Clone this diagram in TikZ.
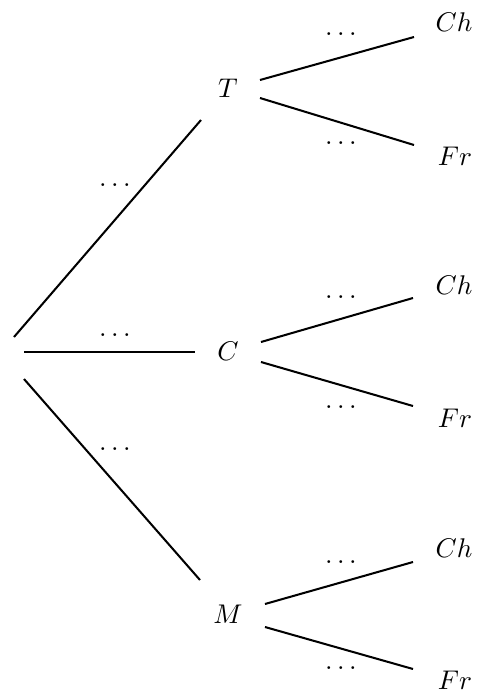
\documentclass[tikz,border=0pt]{standalone}
\begin{document}
\begin{tikzpicture}[x=0.37pt,y=-0.37pt,
  lbl/.style={anchor=base,inner sep=0pt},
  dts/.style={inner sep=0pt},
  br/.style={line width=0.75pt}]
\useasboundingbox (0,0) rectangle (477,693);
% level-1 nodes
\node[lbl] (T) at (228,97) {$T$};
\node[lbl] (C) at (228,360) {$C$};
\node[lbl] (M) at (228,623) {$M$};
% leaves
\node[lbl] (ch1) at (454,31.5) {$Ch$};
\node[lbl] (fr1) at (455,165) {$Fr$};
\node[lbl] (ch2) at (454,294.5) {$Ch$};
\node[lbl] (fr2) at (455,427.5) {$Fr$};
\node[lbl] (ch3) at (454,557) {$Ch$};
\node[lbl] (fr3) at (455,689) {$Fr$};
% connector end points
\coordinate (r1) at (14,337);
\coordinate (r2) at (24,352);
\coordinate (r3) at (24,379);
\coordinate (Tin) at (201,120);
\coordinate (Cin) at (195,352);
\coordinate (Min) at (200,580);
\coordinate (To1) at (260,80);
\coordinate (To2) at (260,98);
\coordinate (Co1) at (261,342);
\coordinate (Co2) at (261,362);
\coordinate (Mo1) at (265,604);
\coordinate (Mo2) at (265,627);
\coordinate (ch1in) at (414,37);
\coordinate (fr1in) at (414,145);
\coordinate (ch2in) at (413,298);
\coordinate (fr2in) at (413,406);
\coordinate (ch3in) at (413,562);
\coordinate (fr3in) at (413,669);
% branches
\draw[br] (r1) -- (Tin);
\draw[br] (r2) -- (Cin);
\draw[br] (r3) -- (Min);
\draw[br] (To1) -- (ch1in);
\draw[br] (To2) -- (fr1in);
\draw[br] (Co1) -- (ch2in);
\draw[br] (Co2) -- (fr2in);
\draw[br] (Mo1) -- (ch3in);
\draw[br] (Mo2) -- (fr3in);
% labels
\node[dts] (d1) at (115,185) {$\dots$};
\node[dts] (d2) at (115,335) {$\dots$};
\node[dts] (d3) at (115,449) {$\dots$};
\node[dts] (d4) at (341,34) {$\dots$};
\node[dts] (d5) at (341,143) {$\dots$};
\node[dts] (d6) at (341,297) {$\dots$};
\node[dts] (d7) at (341,407) {$\dots$};
\node[dts] (d8) at (341,562) {$\dots$};
\node[dts] (d9) at (341,668) {$\dots$};
\end{tikzpicture}
\end{document}
